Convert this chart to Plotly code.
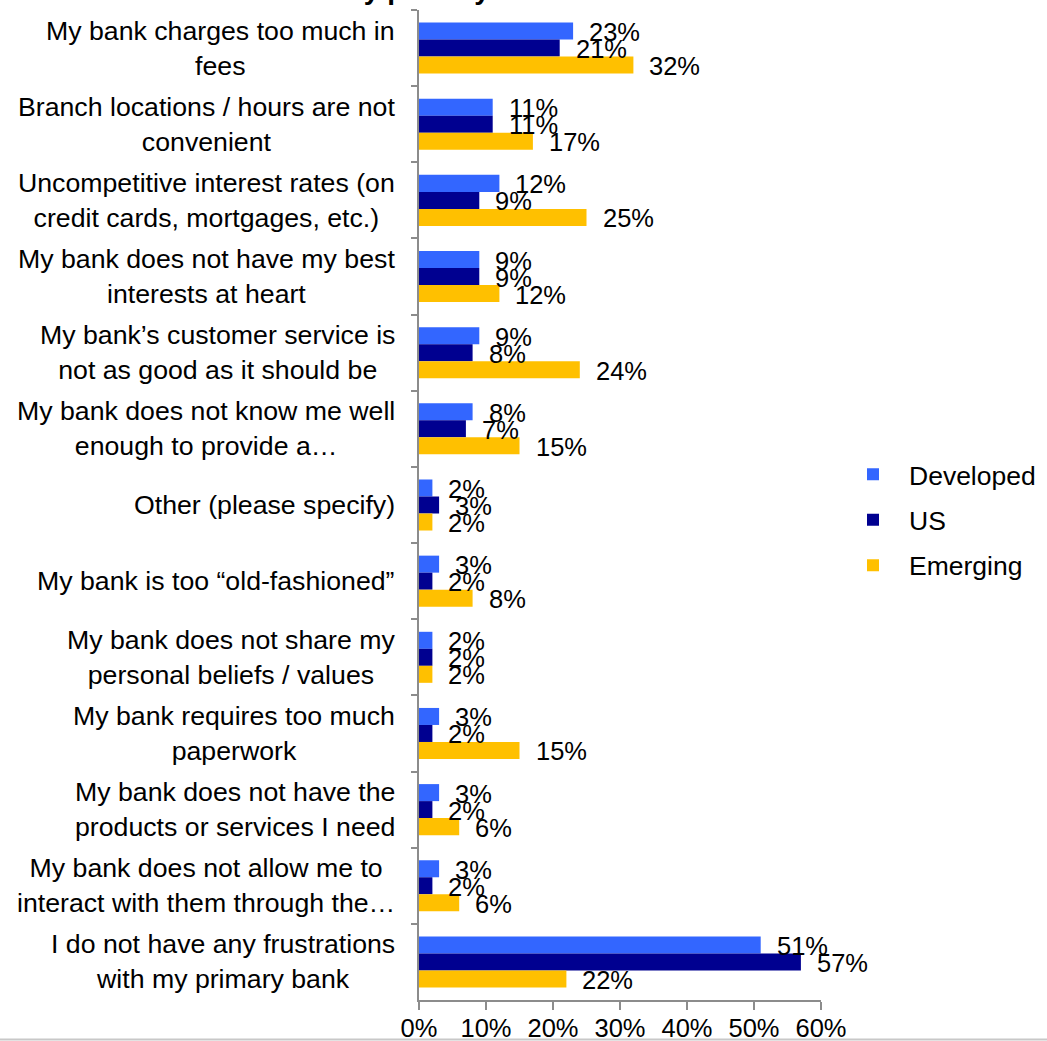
import plotly.graph_objects as go

# Survey answers, listed top to bottom
categories = [
    "My bank charges too much in<br>fees",
    "Branch locations / hours are not<br>convenient",
    "Uncompetitive interest rates (on<br>credit cards, mortgages, etc.)",
    "My bank does not have my best<br>interests at heart",
    "My bank’s customer service is<br>not as good as it should be",
    "My bank does not know me well<br>enough to provide a…",
    "Other (please specify)",
    "My bank is too “old-fashioned”",
    "My bank does not share my<br>personal beliefs / values",
    "My bank requires too much<br>paperwork",
    "My bank does not have the<br>products or services I need",
    "My bank does not allow me to<br>interact with them through the…",
    "I do not have any frustrations<br>with my primary bank",
]

developed = [23, 11, 12, 9, 9, 8, 2, 3, 2, 3, 3, 3, 51]
us = [21, 11, 9, 9, 8, 7, 3, 2, 2, 2, 2, 2, 57]
emerging = [32, 17, 25, 12, 24, 15, 2, 8, 2, 15, 6, 6, 22]

series_names = ["Developed", "US", "Emerging"]
series_values = [developed, us, emerging]
series_colors = ["#3366FF", "#000090", "#FFC000"]

tick_values = [0, 10, 20, 30, 40, 50, 60]
tick_labels = ["0%", "10%", "20%", "30%", "40%", "50%", "60%"]

FONT = "Arial, Liberation Sans, sans-serif"
AXIS_GRAY = "#8c8c8c"
BARGAP = 0.33

# plot area in pixels
W, H = 1047, 1041
L, R, T, B = 419, 226, 10, 41
PW, PH = W - L - R, H - T - B

fig = go.Figure()
for name, vals, color in zip(series_names, series_values, series_colors):
    fig.add_trace(go.Bar(
        name=name,
        y=categories,
        x=vals,
        orientation="h",
        marker=dict(color=color, line=dict(width=0)),
        legendgroup=name,
    ))

# value labels to the right of each bar end
bar_w = (1 - BARGAP) / len(series_values)
annotations = []
for k, vals in enumerate(series_values):
    offset = (k - (len(series_values) - 1) / 2) * bar_w
    for i, v in enumerate(vals):
        annotations.append(dict(
            x=v, y=i + offset, xref="x", yref="y",
            text=f"{v}%", showarrow=False,
            xanchor="left", yanchor="middle", xshift=14, yshift=-1,
            font=dict(family=FONT, size=25.5, color="black"),
        ))

# category labels, centred lines, right-aligned block
for i, cat in enumerate(categories):
    annotations.append(dict(
        x=0, y=i, xref="paper", yref="y",
        text=cat, showarrow=False, align="center",
        xanchor="right", yanchor="middle", xshift=-22,
        font=dict(family=FONT, size=26.7, color="black"),
    ))

# chart title (runs off the top of the page)
annotations.append(dict(
    x=(102 - L) / PW, y=1 + T / PH, xref="paper", yref="paper",
    text="<b>Frustrations with my primary bank</b>", showarrow=False,
    xanchor="left", yanchor="bottom", yshift=-7,
    font=dict(family=FONT, size=28, color="black"),
))

fig.update_layout(
    width=W, height=H,
    margin=dict(l=L, r=R, t=T, b=B, autoexpand=False),
    paper_bgcolor="white", plot_bgcolor="white",
    barmode="group", bargap=BARGAP, bargroupgap=0,
    font=dict(family=FONT, size=26, color="black"),
    annotations=annotations,
    showlegend=True,
    legend=dict(
        x=(837 - L) / PW, y=(1000 - 520) / PH,
        xanchor="left", yanchor="middle",
        font=dict(family=FONT, size=26.5, color="black"),
        traceorder="grouped", tracegroupgap=8, itemwidth=62,
        bgcolor="rgba(0,0,0,0)",
    ),
    xaxis=dict(
        range=[0, 60], tickvals=tick_values, ticktext=tick_labels,
        ticks="outside", ticklen=8, tickcolor=AXIS_GRAY, tickwidth=2,
        showline=True, linecolor=AXIS_GRAY, linewidth=2,
        showgrid=False, zeroline=False, automargin=False,
        tickfont=dict(family=FONT, size=25.5, color="black"),
        ticklabelstandoff=-4,
    ),
    yaxis=dict(
        type="category", autorange="reversed", automargin=False,
        showticklabels=False, ticks="outside", tickson="boundaries",
        ticklen=6, tickcolor=AXIS_GRAY, tickwidth=2,
        showline=True, linecolor=AXIS_GRAY, linewidth=2,
        showgrid=False, zeroline=False,
    ),
    shapes=[dict(
        type="line", xref="paper", yref="paper",
        x0=-L / PW, x1=(W - L) / PW,
        y0=-39.5 / PH, y1=-39.5 / PH,
        line=dict(color="#c8c8c8", width=2),
    )],
)

fig.write_html("out.html")
